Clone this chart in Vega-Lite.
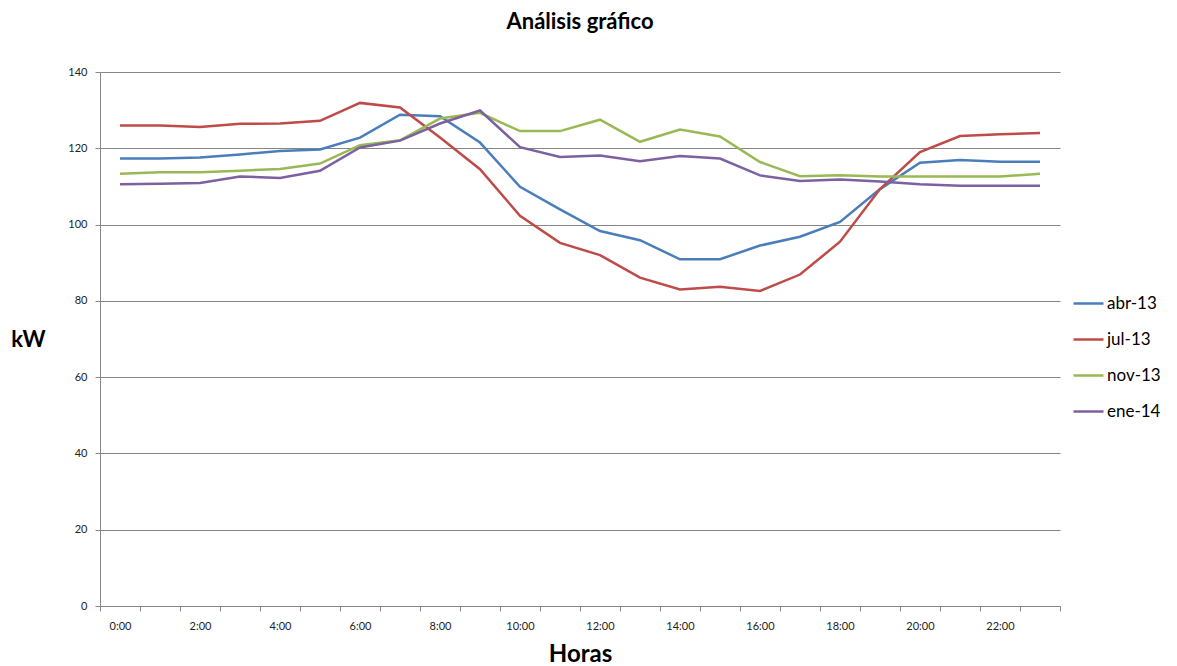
{
  "$schema": "https://vega.github.io/schema/vega-lite/v6.json",
  "autosize": "none",
  "width": 960,
  "height": 534,
  "padding": {"left": 100, "top": 72, "right": 117, "bottom": 60},
  "background": "white",
  "config": {
    "font": "Lato",
    "view": {"stroke": null},
    "axis": {"labelFont": "Lato", "titleFont": "Lato"}
  },
  "title": {
    "text": "Análisis gráfico",
    "font": "Lato",
    "fontSize": 22,
    "fontWeight": "bold",
    "color": "#000000",
    "anchor": "middle",
    "offset": 32
  },
  "data": {
    "values": [
      {"hora": 0, "serie": "abr-13", "kW": 117.3}, {"hora": 0, "serie": "jul-13", "kW": 126.0}, {"hora": 0, "serie": "nov-13", "kW": 113.3}, {"hora": 0, "serie": "ene-14", "kW": 110.6},
      {"hora": 1, "serie": "abr-13", "kW": 117.3}, {"hora": 1, "serie": "jul-13", "kW": 126.0}, {"hora": 1, "serie": "nov-13", "kW": 113.7}, {"hora": 1, "serie": "ene-14", "kW": 110.7},
      {"hora": 2, "serie": "abr-13", "kW": 117.6}, {"hora": 2, "serie": "jul-13", "kW": 125.6}, {"hora": 2, "serie": "nov-13", "kW": 113.7}, {"hora": 2, "serie": "ene-14", "kW": 110.9},
      {"hora": 3, "serie": "abr-13", "kW": 118.4}, {"hora": 3, "serie": "jul-13", "kW": 126.4}, {"hora": 3, "serie": "nov-13", "kW": 114.1}, {"hora": 3, "serie": "ene-14", "kW": 112.6},
      {"hora": 4, "serie": "abr-13", "kW": 119.3}, {"hora": 4, "serie": "jul-13", "kW": 126.5}, {"hora": 4, "serie": "nov-13", "kW": 114.6}, {"hora": 4, "serie": "ene-14", "kW": 112.2},
      {"hora": 5, "serie": "abr-13", "kW": 119.7}, {"hora": 5, "serie": "jul-13", "kW": 127.2}, {"hora": 5, "serie": "nov-13", "kW": 116.0}, {"hora": 5, "serie": "ene-14", "kW": 114.1},
      {"hora": 6, "serie": "abr-13", "kW": 122.8}, {"hora": 6, "serie": "jul-13", "kW": 131.9}, {"hora": 6, "serie": "nov-13", "kW": 120.8}, {"hora": 6, "serie": "ene-14", "kW": 120.2},
      {"hora": 7, "serie": "abr-13", "kW": 128.8}, {"hora": 7, "serie": "jul-13", "kW": 130.7}, {"hora": 7, "serie": "nov-13", "kW": 122.1}, {"hora": 7, "serie": "ene-14", "kW": 122.0},
      {"hora": 8, "serie": "abr-13", "kW": 128.4}, {"hora": 8, "serie": "jul-13", "kW": 122.8}, {"hora": 8, "serie": "nov-13", "kW": 127.8}, {"hora": 8, "serie": "ene-14", "kW": 126.5},
      {"hora": 9, "serie": "abr-13", "kW": 121.5}, {"hora": 9, "serie": "jul-13", "kW": 114.5}, {"hora": 9, "serie": "nov-13", "kW": 129.3}, {"hora": 9, "serie": "ene-14", "kW": 129.9},
      {"hora": 10, "serie": "abr-13", "kW": 109.9}, {"hora": 10, "serie": "jul-13", "kW": 102.3}, {"hora": 10, "serie": "nov-13", "kW": 124.5}, {"hora": 10, "serie": "ene-14", "kW": 120.3},
      {"hora": 11, "serie": "abr-13", "kW": 104.0}, {"hora": 11, "serie": "jul-13", "kW": 95.2}, {"hora": 11, "serie": "nov-13", "kW": 124.5}, {"hora": 11, "serie": "ene-14", "kW": 117.7},
      {"hora": 12, "serie": "abr-13", "kW": 98.3}, {"hora": 12, "serie": "jul-13", "kW": 92.0}, {"hora": 12, "serie": "nov-13", "kW": 127.5}, {"hora": 12, "serie": "ene-14", "kW": 118.1},
      {"hora": 13, "serie": "abr-13", "kW": 95.9}, {"hora": 13, "serie": "jul-13", "kW": 86.1}, {"hora": 13, "serie": "nov-13", "kW": 121.7}, {"hora": 13, "serie": "ene-14", "kW": 116.6},
      {"hora": 14, "serie": "abr-13", "kW": 90.9}, {"hora": 14, "serie": "jul-13", "kW": 83.0}, {"hora": 14, "serie": "nov-13", "kW": 124.9}, {"hora": 14, "serie": "ene-14", "kW": 118.0},
      {"hora": 15, "serie": "abr-13", "kW": 90.9}, {"hora": 15, "serie": "jul-13", "kW": 83.7}, {"hora": 15, "serie": "nov-13", "kW": 123.1}, {"hora": 15, "serie": "ene-14", "kW": 117.3},
      {"hora": 16, "serie": "abr-13", "kW": 94.5}, {"hora": 16, "serie": "jul-13", "kW": 82.6}, {"hora": 16, "serie": "nov-13", "kW": 116.4}, {"hora": 16, "serie": "ene-14", "kW": 112.9},
      {"hora": 17, "serie": "abr-13", "kW": 96.8}, {"hora": 17, "serie": "jul-13", "kW": 86.9}, {"hora": 17, "serie": "nov-13", "kW": 112.7}, {"hora": 17, "serie": "ene-14", "kW": 111.4},
      {"hora": 18, "serie": "abr-13", "kW": 100.7}, {"hora": 18, "serie": "jul-13", "kW": 95.5}, {"hora": 18, "serie": "nov-13", "kW": 112.9}, {"hora": 18, "serie": "ene-14", "kW": 111.8},
      {"hora": 19, "serie": "abr-13", "kW": 109.3}, {"hora": 19, "serie": "jul-13", "kW": 109.3}, {"hora": 19, "serie": "nov-13", "kW": 112.6}, {"hora": 19, "serie": "ene-14", "kW": 111.3},
      {"hora": 20, "serie": "abr-13", "kW": 116.2}, {"hora": 20, "serie": "jul-13", "kW": 119.0}, {"hora": 20, "serie": "nov-13", "kW": 112.6}, {"hora": 20, "serie": "ene-14", "kW": 110.6},
      {"hora": 21, "serie": "abr-13", "kW": 116.9}, {"hora": 21, "serie": "jul-13", "kW": 123.2}, {"hora": 21, "serie": "nov-13", "kW": 112.6}, {"hora": 21, "serie": "ene-14", "kW": 110.2},
      {"hora": 22, "serie": "abr-13", "kW": 116.5}, {"hora": 22, "serie": "jul-13", "kW": 123.7}, {"hora": 22, "serie": "nov-13", "kW": 112.6}, {"hora": 22, "serie": "ene-14", "kW": 110.2},
      {"hora": 23, "serie": "abr-13", "kW": 116.5}, {"hora": 23, "serie": "jul-13", "kW": 124.0}, {"hora": 23, "serie": "nov-13", "kW": 113.3}, {"hora": 23, "serie": "ene-14", "kW": 110.2}
    ]
  },
  "mark": {"type": "line", "strokeWidth": 2.5},
  "encoding": {
    "x": {
      "field": "hora",
      "type": "ordinal",
      "scale": {"type": "band", "paddingInner": 0, "paddingOuter": 0},
      "axis": {
        "title": "Horas",
        "titleFontSize": 24,
        "titleFontWeight": "bold",
        "titleColor": "#000000",
        "titleAnchor": "middle",
        "titleBaseline": "middle",
        "titleY": 48,
        "labelAngle": 0,
        "labelFontSize": 11,
        "labelColor": "#222222",
        "labelPadding": 9,
        "labelExpr": "datum.value % 2 == 0 ? datum.value + ':00' : ''",
        "tickBand": "extent",
        "ticks": true,
        "tickSize": 5,
        "tickColor": "#868686",
        "domainColor": "#868686",
        "domainWidth": 1,
        "grid": false
      }
    },
    "y": {
      "field": "kW",
      "type": "quantitative",
      "scale": {"domain": [0, 140], "nice": false, "zero": true},
      "axis": {
        "title": "kW",
        "titleAngle": 0,
        "titleFontSize": 22,
        "titleFontWeight": "bold",
        "titleColor": "#000000",
        "titleAlign": "center",
        "titleBaseline": "middle",
        "titleX": -72,
        "titleY": 267,
        "values": [0, 20, 40, 60, 80, 100, 120, 140],
        "labelFontSize": 11,
        "labelColor": "#222222",
        "labelPadding": 8,
        "tickSize": 5,
        "tickColor": "#868686",
        "domainColor": "#868686",
        "grid": true,
        "gridColor": "#868686",
        "gridWidth": 1
      }
    },
    "color": {
      "field": "serie",
      "type": "nominal",
      "scale": {
        "domain": ["abr-13", "jul-13", "nov-13", "ene-14"],
        "range": ["#4A7EBB", "#BE4B48", "#98B954", "#7D60A0"]
      },
      "legend": {
        "title": null,
        "orient": "none",
        "legendX": 972,
        "legendY": 215,
        "padding": 0,
        "symbolType": "stroke",
        "symbolSize": 900,
        "symbolStrokeWidth": 2.5,
        "labelFontSize": 17,
        "labelColor": "#000000",
        "labelOffset": 2,
        "rowPadding": 11
      }
    }
  }
}
